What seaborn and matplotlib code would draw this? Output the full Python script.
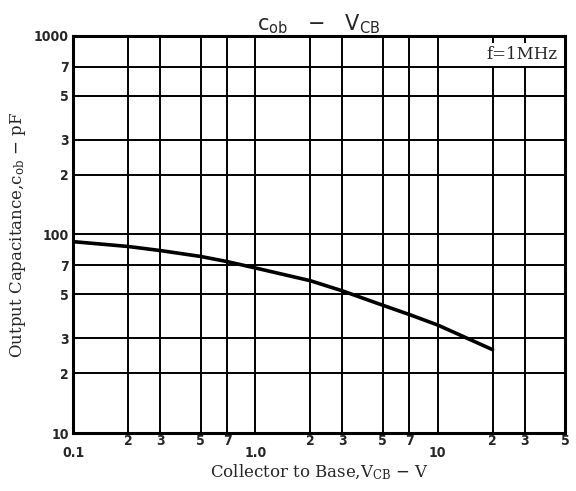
import numpy as np
import pandas as pd
import seaborn as sns
import matplotlib.pyplot as plt
from matplotlib.ticker import FixedLocator, NullLocator

# curve (V_CB in V, c_ob in pF)
vcb = [0.1, 0.2, 0.3, 0.5, 0.7, 1.0, 2.0, 3.0, 5.0, 7.0, 10.0, 20.0]
cob = [92.0, 87.0, 83.0, 77.5, 73.0, 67.8, 58.5, 52.0, 44.0, 39.5, 35.0, 26.3]

x_major = [0.1, 1.0, 10]
x_major_labels = ["0.1", "1.0", "10"]
x_minor = [0.2, 0.3, 0.5, 0.7, 2, 3, 5, 7, 20, 30, 50]
x_minor_labels = ["2", "3", "5", "7", "2", "3", "5", "7", "2", "3", "5"]
y_ticks = [10, 20, 30, 50, 70, 100, 200, 300, 500, 700, 1000]
y_labels = ["10", "2", "3", "5", "7", "100", "2", "3", "5", "7", "1000"]

sns.set_style("white")
plt.rcParams['font.family'] = ['DejaVu Sans']

df = pd.DataFrame({"vcb": vcb, "cob": cob})

fig = plt.figure(figsize=(5.76, 4.91), dpi=100)
ax = fig.add_axes([0.127, 0.118, 0.854, 0.809])

sns.lineplot(data=df, x="vcb", y="cob", ax=ax, color="black", linewidth=2.6)

ax.set_xscale("log")
ax.set_yscale("log")
ax.set_xlim(0.1, 50)
ax.set_ylim(10, 1000)

# grid lines at every labelled value
for v in x_major + x_minor:
    ax.axvline(v, color="black", linewidth=1.4, zorder=1)
for v in y_ticks:
    ax.axhline(v, color="black", linewidth=1.4, zorder=1)

ax.xaxis.set_major_locator(FixedLocator(x_major))
ax.set_xticklabels(x_major_labels)
ax.xaxis.set_minor_locator(FixedLocator(x_minor))
ax.set_xticklabels(x_minor_labels, minor=True)
ax.yaxis.set_major_locator(FixedLocator(y_ticks))
ax.set_yticklabels(y_labels)
ax.yaxis.set_minor_locator(NullLocator())

ax.tick_params(axis="x", which="major", length=0, pad=9, labelsize=10)
ax.tick_params(axis="x", which="minor", length=0, pad=1, labelsize=10)
ax.tick_params(axis="y", which="major", length=0, pad=3, labelsize=10)
for lab in ax.get_xticklabels() + ax.get_xticklabels(minor=True) + ax.get_yticklabels():
    lab.set_fontweight("bold")
    lab.set_fontstretch("condensed")

for s in ax.spines.values():
    s.set_visible(True)
    s.set_color("black")
    s.set_linewidth(2.2)

ax.set_xlabel(r"Collector to Base,$\mathregular{V_{CB}}$ $-$ V", family="DejaVu Serif",
              fontsize=12, labelpad=2)
ax.set_ylabel(r"Output Capacitance,$\mathregular{c_{ob}}$ $-$ pF", family="DejaVu Serif",
              fontsize=12, labelpad=4)
ax.set_title(r"$\mathregular{c_{ob}}$   $-$   $\mathregular{V_{CB}}$", fontsize=15, pad=4)

ax.text(0.985, 0.975, "f=1MHz", transform=ax.transAxes, ha="right", va="top",
        family="DejaVu Serif", fontsize=12,
        bbox=dict(facecolor="white", edgecolor="none", pad=2), zorder=3)

fig.savefig("out.png", dpi=100)
